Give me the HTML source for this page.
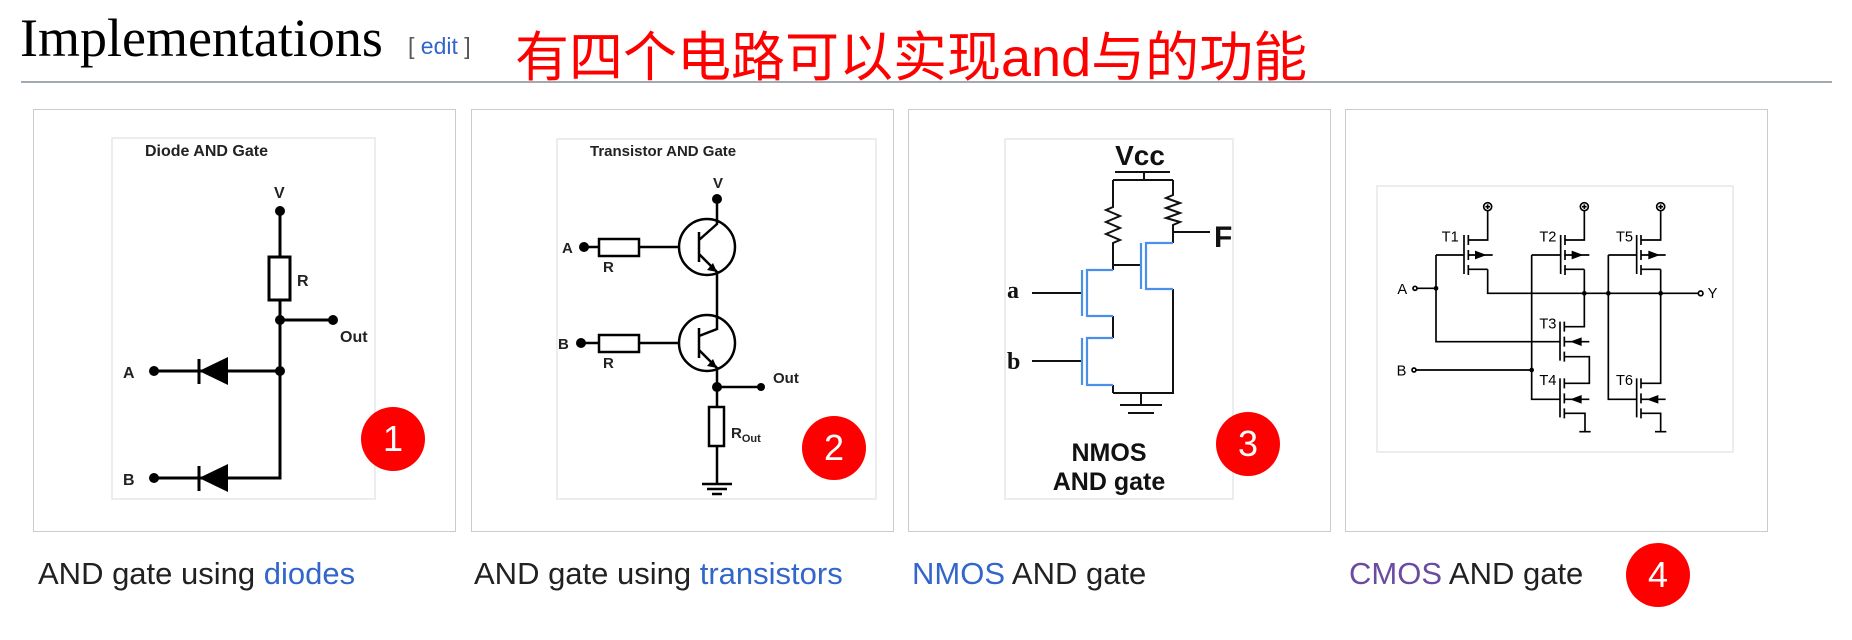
<!DOCTYPE html>
<html><head><meta charset="utf-8"><style>
body{margin:0;width:1852px;height:640px;background:#fff;position:relative;overflow:hidden;font-family:"Liberation Sans",sans-serif}
.a{position:absolute;white-space:nowrap}
.p{position:absolute;border:1px solid #c8ccd1;background:#fff;top:109px;width:421px;height:421px}
.cap{position:absolute;top:556px;font-size:31px;color:#202122}
.l{color:#3366cc}
.n{position:absolute;width:64px;height:64px;border-radius:50%;background:#f00;color:#fff;font-size:36px;text-align:center;line-height:64px}
</style></head><body>
<div class="a" style="left:20px;top:7px;font-family:'Liberation Serif',serif;font-size:54px;color:#000">Implementations</div>
<div class="a" style="left:408px;top:33px;font-size:23px;color:#54595d">[ <span class="l">edit</span> ]</div>
<div class="a" style="left:515px;top:13px;font-size:54px;color:#f00;font-family:'Liberation Sans','Noto Sans CJK SC',sans-serif">有四个电路可以实现and与的功能</div>
<div class="a" style="left:21px;top:81px;width:1811px;height:2px;background:#a2a9b1"></div>
<div class="p" style="left:33px"></div>
<div class="p" style="left:471px"></div>
<div class="p" style="left:908px"></div>
<div class="p" style="left:1345px"></div>
<svg class="a" style="left:0;top:0" width="1852" height="640" font-family="Liberation Sans,sans-serif">
<g fill="none" stroke="#e6e7ea" stroke-width="1.5">
<rect x="112" y="138" width="263" height="361"/><rect x="557" y="139" width="319" height="360"/><rect x="1005" y="139" width="228" height="360"/><rect x="1377" y="186" width="356" height="266"/></g>
<!-- panel1 -->
<g stroke="#000" stroke-width="3" fill="none">
<path d="M280 211V257M280 300V478H153M280 320H333M280 371H154"/>
<rect x="269" y="257" width="21" height="43" fill="#fff"/>
<path d="M199 359V384"/>
</g>
<g fill="#000"><circle cx="280" cy="211" r="5"/><circle cx="280" cy="320" r="5"/><circle cx="333" cy="320" r="5"/><circle cx="280" cy="371" r="5"/><circle cx="154" cy="371" r="5"/><circle cx="154" cy="478" r="5"/>
<path d="M199 371L228 357V385Z"/><path d="M199 478L228 464V492Z"/></g>
<path d="M199 466V491" stroke="#000" stroke-width="3"/>
<g font-weight="bold" font-size="16" fill="#222"><text x="145" y="156">Diode AND Gate</text><text x="274" y="198">V</text><text x="297" y="286">R</text><text x="340" y="342">Out</text><text x="123" y="378">A</text><text x="123" y="485">B</text></g>
<!-- panel2 -->
<g stroke="#000" stroke-width="2.5" fill="none">
<circle cx="707" cy="247" r="28"/><circle cx="707" cy="343" r="28"/>
<path d="M584 247H679M581 343H679M699 232V262M699 328V358M699 240L717 224V199M699 254L717 272V329L699 336M699 350L717 368V407M717 387H761M717 446V484M702 484H732M707 489H727M712 494H722"/>
<rect x="599" y="239" width="40" height="17" fill="#fff"/><rect x="599" y="335" width="40" height="17" fill="#fff"/><rect x="709" y="407" width="15" height="39" fill="#fff"/>
</g>
<g fill="#000"><circle cx="717" cy="199" r="5"/><circle cx="584" cy="247" r="5"/><circle cx="581" cy="343" r="5"/><circle cx="717" cy="387" r="5"/><circle cx="761" cy="387" r="4"/><path d="M717 272L707 270L713 263Z"/><path d="M717 368L707 366L713 359Z"/></g>
<g font-weight="bold" font-size="15" fill="#222"><text x="590" y="156">Transistor AND Gate</text><text x="713" y="188">V</text><text x="562" y="253">A</text><text x="558" y="349">B</text><text x="603" y="272">R</text><text x="603" y="368">R</text><text x="773" y="383">Out</text><text x="731" y="438">R<tspan font-size="11" dy="4">Out</tspan></text></g>
<!-- panel3 -->
<g stroke="#111" stroke-width="2" fill="none">
<path d="M1115 172H1170M1144 172V180M1113 180H1173M1113 180V207L1106 210L1120 216L1106 222L1120 228L1106 234L1120 240L1113 243V270M1173 180V195L1166 198L1180 203L1166 208L1180 213L1166 218L1180 222L1173 225V243M1173 232H1210M1113 265H1141M1173 289V393H1113M1113 316V338M1113 385V393M1141 393V405M1120 405H1162M1128 413H1154M1032 293H1082M1032 361H1082"/>
</g>
<g stroke="#4a8fe8" stroke-width="2.2" fill="none">
<path d="M1141 243V289M1173 243H1146V289H1173M1082 270V316M1113 270H1087V316H1113M1082 338V385M1113 338H1087V385H1113"/>
</g>
<g font-weight="bold" fill="#111"><text x="1140" y="165" font-size="28" text-anchor="middle">Vcc</text><text x="1214" y="247" font-size="30">F</text><text x="1007" y="298" font-size="24" font-family="Liberation Serif,serif">a</text><text x="1007" y="369" font-size="24" font-family="Liberation Serif,serif">b</text><text x="1109" y="461" font-size="25" text-anchor="middle">NMOS</text><text x="1109" y="490" font-size="25" text-anchor="middle">AND gate</text></g>
<!-- panel4 -->
<g transform="translate(1340,170) scale(0.33333)">
<g stroke="#000" stroke-width="5" fill="none">
<circle cx="443" cy="110" r="12"/><circle cx="733" cy="110" r="12"/><circle cx="962" cy="110" r="12"/>
<path d="M443 103V117M436 110H450M733 103V117M726 110H740M962 103V117M955 110H969"/>
<path d="M443 122V210H385M443 298H385M443 298V370H1074M458 255H385"/>
<path d="M733 122V210H673M733 298H673V298M733 298V470H673M748 255H673"/>
<path d="M962 122V210H903M962 298H903M962 298V640H903M977 255H903"/>
<path d="M372 195V312M385 195V225M385 240V270M385 285V315"/>
<path d="M662 195V312M675 195V225M675 240V270M675 285V315"/>
<path d="M890 195V312M903 195V225M903 240V270M903 285V315"/>
<path d="M660 455V572M673 455V485M673 500V530M673 545V575"/>
<path d="M660 625V742M673 625V655M673 670V700M673 715V745"/>
<path d="M890 625V742M903 625V655M903 670V700M903 715V745"/>
<path d="M231 355H288M288 255H372M288 255V515H660M673 515H748M673 560H748V640H673M673 688H748M673 730H735V785M718 785H752"/>
<path d="M228 600H575M575 255H662M575 255V688H660"/>
<path d="M805 255H890M805 255V688H890M903 688H977M903 730H962V785M945 785H979"/>
<circle cx="225" cy="355" r="6"/><circle cx="222" cy="600" r="6"/><circle cx="1082" cy="370" r="7"/>
</g>
<g fill="#000"><circle cx="288" cy="355" r="7"/><circle cx="575" cy="600" r="7"/><circle cx="733" cy="370" r="7"/><circle cx="805" cy="370" r="7"/><circle cx="962" cy="370" r="7"/>
<path d="M440 255L405 242V268Z"/><path d="M730 255L695 242V268Z"/><path d="M960 255L925 242V268Z"/>
<path d="M690 515L725 502V528Z"/><path d="M690 688L725 675V701Z"/><path d="M920 688L955 675V701Z"/></g>
<g font-size="44" fill="#000"><text x="172" y="372">A</text><text x="170" y="617">B</text><text x="1103" y="384">Y</text><text x="305" y="215">T1</text><text x="598" y="215">T2</text><text x="828" y="215">T5</text><text x="598" y="475">T3</text><text x="598" y="645">T4</text><text x="828" y="645">T6</text></g>
</g>
</svg>
<div class="n" style="left:361px;top:407px">1</div>
<div class="n" style="left:802px;top:416px">2</div>
<div class="n" style="left:1216px;top:412px">3</div>
<div class="n" style="left:1626px;top:543px">4</div>
<div class="cap" style="left:38px">AND gate using <span class="l">diodes</span></div>
<div class="cap" style="left:474px">AND gate using <span class="l">transistors</span></div>
<div class="cap" style="left:912px"><span class="l">NMOS</span> AND gate</div>
<div class="cap" style="left:1349px"><span style="color:#6b4ba1">CMOS</span> AND gate</div>
</body></html>
